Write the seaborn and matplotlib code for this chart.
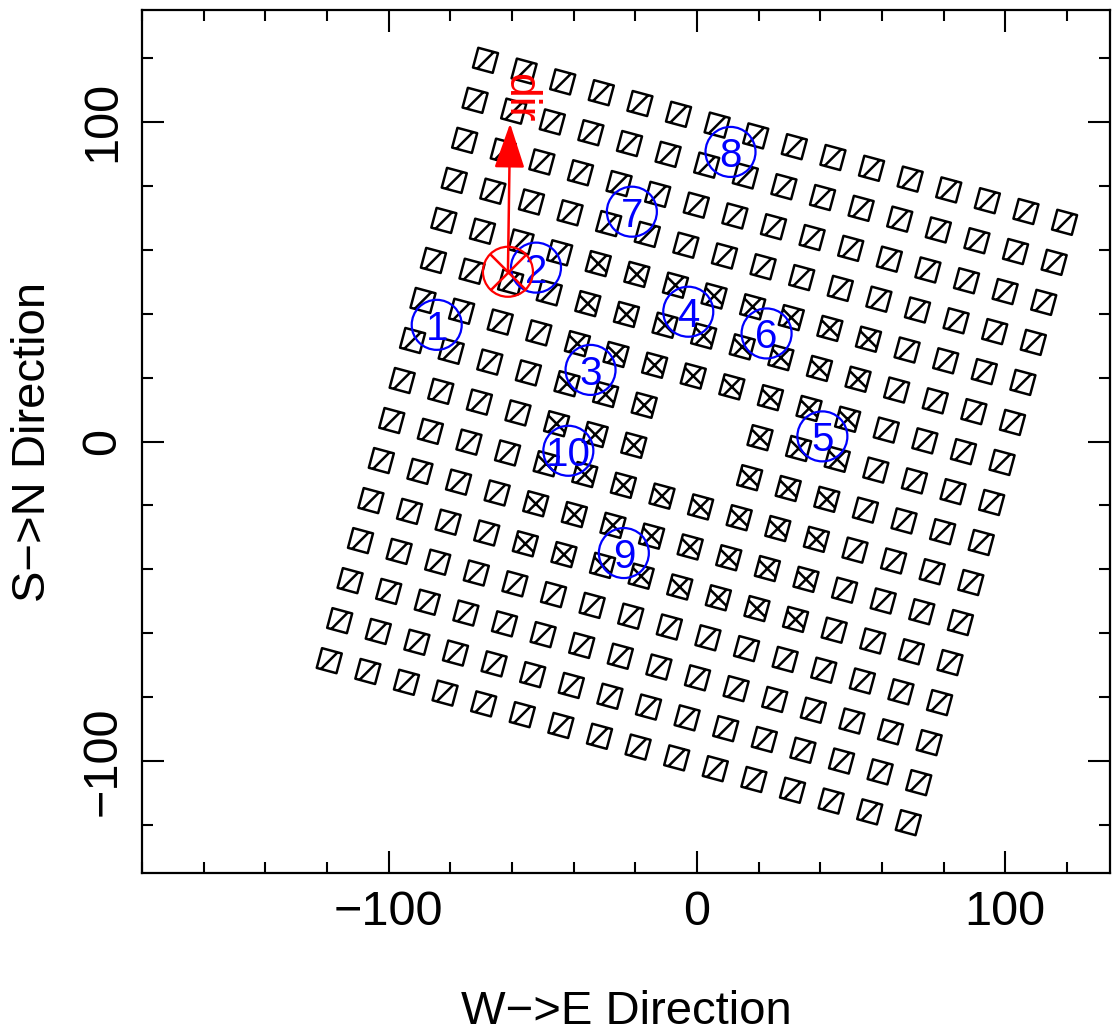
import numpy as np
import pandas as pd
import matplotlib
matplotlib.use("Agg")
import matplotlib.pyplot as plt
import seaborn as sns
from matplotlib.path import Path
from matplotlib.markers import MarkerStyle
from matplotlib.ticker import MultipleLocator
from matplotlib.patches import ArrowStyle

# ---------------- data ----------------
grid_cols = list(range(16))          # antenna columns
grid_rows = list(range(16))          # antenna rows (0 = top)
grid_pitch = 12.97                   # spacing between elements
grid_angle_deg = -15.1               # rotation of the array (and tile outlines)
dipole_angles_deg = [45.0, -45.0]    # orientation of the marks inside a tile
crossed_cols = list(range(4, 12))    # inner block drawn with an X
crossed_rows = list(range(4, 12))
missing_cells = [(7, 7), (8, 7), (7, 8), (8, 8)]   # (col, row) holes

circle_labels = ["1", "2", "3", "4", "5", "6", "7", "8", "9", "10"]
circle_x = [-84.4, -52.2, -34.5, -2.8, 40.7, 22.6, -21.1, 10.9, -23.7, -41.7]
circle_y = [36.5, 54.4, 22.4, 40.6, 1.6, 33.8, 71.9, 90.6, -34.9, -2.9]

ref_x, ref_y = [-61.3], [53.1]
dir_tip = (-60.6, 99.5)
dir_label = "dir"

x_label = "W\u2212>E Direction"
y_label = "S\u2212>N Direction"
x_limits = (-180, 134)
y_limits = (-135, 135)

# ---------------- build element table ----------------
theta = np.deg2rad(grid_angle_deg)
rows = []
for r in grid_rows:
    for c in grid_cols:
        if (c, r) in missing_cells:
            continue
        u = (c - 7.5) * grid_pitch
        v = (7.5 - r) * grid_pitch
        x = u * np.cos(theta) - v * np.sin(theta)
        y = u * np.sin(theta) + v * np.cos(theta)
        kind = "cross" if (c in crossed_cols and r in crossed_rows) else "slash"
        rows.append({"x": x, "y": y, "kind": kind})
df = pd.DataFrame(rows)


def tile_marker(cross):
    # square outline in the tile frame, plus dipole line(s) clipped to it
    sq = [[-1, -1], [1, -1], [1, 1], [-1, 1], [-1, -1]]
    verts = list(sq)
    codes = [Path.MOVETO, Path.LINETO, Path.LINETO, Path.LINETO, Path.CLOSEPOLY]
    angles = dipole_angles_deg if cross else dipole_angles_deg[:1]
    for a in angles:
        al = np.deg2rad(a) - theta
        t = 1.0 / max(abs(np.cos(al)), abs(np.sin(al)))
        p = [t * np.cos(al), t * np.sin(al)]
        verts += [[-p[0], -p[1]], p]
        codes += [Path.MOVETO, Path.LINETO]
    verts = np.array(verts, float)
    rot = np.array([[np.cos(theta), -np.sin(theta)], [np.sin(theta), np.cos(theta)]])
    verts = verts @ rot.T
    return MarkerStyle(Path(verts, codes))


# ---------------- figure ----------------
sns.set_theme(style="white")
plt.rcParams["font.family"] = ["Liberation Sans", "DejaVu Sans"]
plt.rcParams["axes.unicode_minus"] = True
plt.rcParams["text.color"] = "black"
plt.rcParams["axes.labelcolor"] = "black"

fig = plt.figure(figsize=(11.12, 10.33), dpi=100)
ax = fig.add_axes([142 / 1112, 1 - 873 / 1033, (1110 - 142) / 1112, (873 - 10) / 1033])

for kind in ["slash", "cross"]:
    sub = df[df["kind"] == kind]
    sns.scatterplot(data=sub, x="x", y="y", ax=ax, marker=tile_marker(kind == "cross"),
                    s=325, facecolor="none", edgecolor="black", color="black",
                    linewidth=1.8, legend=False, zorder=2)

# blue numbered circles
circ = pd.DataFrame({"x": circle_x, "y": circle_y, "label": circle_labels})
sns.scatterplot(data=circ, x="x", y="y", ax=ax, marker="o", s=36 ** 2,
                facecolor="none", edgecolor="blue", color="blue", linewidth=1.6,
                legend=False, zorder=3)
for _, rw in circ.iterrows():
    ax.text(rw["x"], rw["y"], rw["label"], color="blue", fontsize=29,
            ha="center", va="center_baseline", zorder=4)

# red reference circle with X and direction arrow
ref = pd.DataFrame({"x": ref_x, "y": ref_y})
sns.scatterplot(data=ref, x="x", y="y", ax=ax, marker="o", s=36 ** 2,
                facecolor="none", edgecolor="red", color="red", linewidth=1.6,
                legend=False, zorder=5)
sns.scatterplot(data=ref, x="x", y="y", ax=ax, marker="x", s=26 ** 2,
                color="red", linewidth=1.8, legend=False, zorder=5)
ax.annotate("", xy=dir_tip, xytext=(ref_x[0], ref_y[0]),
            arrowprops=dict(arrowstyle=ArrowStyle("-|>", head_length=2.8, head_width=0.95),
                            mutation_scale=10, color="red", lw=1.8,
                            shrinkA=0, shrinkB=0), zorder=6)
ax.text(dir_tip[0] + 3.2, dir_tip[1] + 8.0, dir_label, color="red", fontsize=32,
        rotation=-90, ha="center", va="center", zorder=6)

# axes styling
ax.set_xlim(*x_limits)
ax.set_ylim(*y_limits)
ax.xaxis.set_major_locator(MultipleLocator(100))
ax.xaxis.set_minor_locator(MultipleLocator(20))
ax.yaxis.set_major_locator(MultipleLocator(100))
ax.yaxis.set_minor_locator(MultipleLocator(20))
ax.tick_params(which="both", direction="in", top=True, right=True, bottom=True, left=True,
               colors="black", width=1.5)
ax.tick_params(which="major", length=16, labelsize=35, pad=12)
ax.tick_params(which="minor", length=8)
for lab in ax.get_yticklabels():
    lab.set_rotation(90)
    lab.set_va("center")
for sp in ax.spines.values():
    sp.set_color("black")
    sp.set_linewidth(1.6)
    sp.set_visible(True)
ax.set_xlabel(x_label, fontsize=34, labelpad=40, color="black")
ax.set_ylabel(y_label, fontsize=34, labelpad=18, color="black")
ax.grid(False)

fig.savefig("out.png", dpi=100)
